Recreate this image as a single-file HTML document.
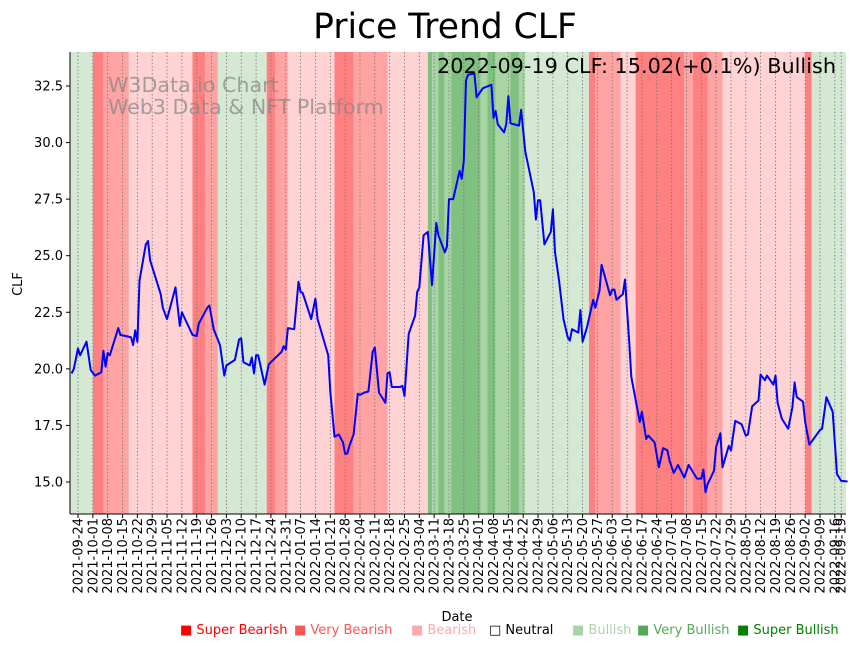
<!DOCTYPE html>
<html><head><meta charset="utf-8"><style>
body{margin:0;background:#fff;}
svg{display:block;font-family:"DejaVu Sans","Liberation Sans",sans-serif;}
</style></head><body>
<svg id="chart" width="864" height="646" viewBox="0 0 864 646" xmlns="http://www.w3.org/2000/svg">
<g id="bands"></g>
<g id="grid"></g>
<text x="108" y="92" font-size="20.6" fill="#888" fill-opacity="0.75">W3Data.io Chart</text>
<text x="108" y="114" font-size="20.6" fill="#888" fill-opacity="0.75">Web3 Data &amp; NFT Platform</text>
<g id="series"></g>
<line x1="70" y1="52" x2="70" y2="514" stroke="#000" stroke-width="1"/>
<line x1="70" y1="514" x2="846" y2="514" stroke="#000" stroke-width="1"/>
<g id="yticks"></g>
<g id="xticks"></g>
<text x="445" y="38" font-size="34.5" text-anchor="middle">Price Trend CLF</text>
<text x="836" y="73" font-size="20.8" text-anchor="end">2022-09-19 CLF: 15.02(+0.1%) Bullish</text>
<text x="22" y="284" font-size="13" text-anchor="middle" transform="rotate(-90 22 284)">CLF</text>
<text x="457" y="621" font-size="13" text-anchor="middle">Date</text>
<g id="legend"></g>
</svg>
<script>
const startDate = new Date('2021-09-24T00:00:00Z');
const days = [-3,-2,0,1,4,6,8,11,12,13,14,15,19,20,25,26,27,28,29,32,33,34,39,40,42,46,48,49,54,56,57,61,62,64,67,69,70,74,76,77,78,81,82,83,84,85,88,90,96,97,98,99,102,104,105,106,110,112,113,118,119,121,123,125,126,127,128,130,132,133,135,137,139,140,142,145,146,147,148,152,153,154,156,159,160,161,163,165,167,169,170,173,174,175,177,180,181,182,183,184,187,188,191,195,196,197,198,201,202,203,204,208,209,211,215,216,217,218,220,223,224,225,227,229,231,232,233,236,237,238,240,243,244,246,247,251,252,253,254,257,258,260,261,265,266,268,269,272,274,276,278,279,281,283,286,288,292,294,295,296,297,300,301,303,304,307,308,310,313,315,316,318,321,322,324,325,328,329,330,332,335,337,338,339,342,343,345,350,351,353,356,358,360,363];
const prices = [19.8,20.0,20.9,20.6,21.2,19.95,19.7,19.85,20.8,20.1,20.7,20.6,21.8,21.5,21.4,21.05,21.7,21.2,23.9,25.5,25.65,24.8,23.3,22.7,22.2,23.6,21.9,22.5,21.5,21.45,22.0,22.7,22.8,21.75,21.05,19.7,20.15,20.4,21.3,21.35,20.3,20.15,20.5,19.8,20.6,20.6,19.3,20.2,20.75,21.0,20.85,21.8,21.75,23.85,23.4,23.35,22.2,23.1,22.2,20.6,19.0,17.0,17.1,16.75,16.25,16.25,16.6,17.1,18.9,18.85,18.95,19.0,20.75,20.95,18.95,18.5,19.8,19.85,19.2,19.2,19.25,18.8,21.55,22.35,23.4,23.6,25.9,26.05,23.7,26.45,25.9,25.15,25.4,27.5,27.5,28.75,28.4,29.2,32.75,33.0,33.05,32.0,32.4,32.55,31.1,31.4,30.8,30.45,30.8,32.05,30.85,30.75,31.45,29.6,27.8,26.6,27.45,27.45,25.5,26.05,27.05,25.15,23.85,22.2,21.4,21.25,21.75,21.6,22.6,21.2,21.8,23.05,22.7,23.45,24.6,23.25,23.5,23.5,23.05,23.3,23.95,21.2,19.65,17.65,18.1,16.9,17.05,16.75,15.65,16.5,16.4,15.95,15.4,15.75,15.2,15.75,15.15,15.15,15.55,14.55,14.9,15.5,16.55,17.15,15.65,16.6,16.4,17.7,17.55,17.05,17.1,18.35,18.6,19.75,19.5,19.7,19.3,19.7,18.5,17.8,17.35,18.3,19.4,18.75,18.55,17.65,16.65,17.3,17.35,18.75,18.1,15.35,15.05,15.02];
const bandStart = [-4,7,12,24,54,60,66,89,93,99,121,130,146,165,167,170,173,176,190,193,197,204,208,211,241,244,256,263,286,290,297,304,343,346];
const bandLevel = [3,-3,-2,-1,-3,-2,3,-3,-2,-1,-3,-2,-1,6,5,6,5,6,5,6,5,6,5,3,-3,-2,-1,-3,-2,-3,-2,-1,-3,3];
const bandEndDay = 364;
const yTicks = [15.0,17.5,20.0,22.5,25.0,27.5,30.0,32.5];
const legendLabels = ['Super Bearish','Very Bearish','Bearish','Neutral','Bullish','Very Bullish','Super Bullish'];

const X0=70,X1=846,Y0=52,Y1=514;
function xs(d){return 78+2.12*d;}
function ys(v){return 482-(v-15)*22.63;}
const bandColor={'-3':'#ff8080','-2':'#ffa3a3','-1':'#ffd3d3','3':'#d5e8d4','5':'#a9d5a5','6':'#80c080'};
const NS='http://www.w3.org/2000/svg';
function mk(t,a,p){const e=document.createElementNS(NS,t);for(const k in a)e.setAttribute(k,a[k]);p.appendChild(e);return e;}

const gb=document.getElementById('bands');
for(let i=0;i<bandStart.length;i++){
  const s=Math.max(X0,xs(bandStart[i]));
  const e=Math.min(X1,xs(i+1<bandStart.length?bandStart[i+1]:bandEndDay));
  const r=mk('rect',{x:s,y:Y0,width:Math.max(0,e-s),height:Y1-Y0,fill:bandColor[String(bandLevel[i])]},gb);
  
  
}

const gg=document.getElementById('grid'), gx=document.getElementById('xticks');
const tickDays=[];
for(let d=0;d<=357;d+=7)tickDays.push(d);
tickDays.push(360);
function fmt(d){const t=new Date(startDate.getTime()+d*86400000);return t.toISOString().slice(0,10);}
tickDays.forEach(d=>{
  const x=xs(d);
  const l=mk('line',{x1:x,y1:Y0,x2:x,y2:Y1,stroke:'#777','stroke-width':0.8,'stroke-dasharray':'1.5,2'},gg);
  
  
  const tk=mk('line',{x1:x,y1:Y1,x2:x,y2:Y1+4,stroke:'#000'},gx);
  
  
  const t=mk('text',{x:0,y:0,'font-size':13,'text-anchor':'end',transform:`translate(${x+4.5},518) rotate(-90)`},gx);
  t.textContent=fmt(d);
  
  
});

const gy=document.getElementById('yticks');
yTicks.forEach(v=>{
  const y=ys(v);
  const tk=mk('line',{x1:X0-4,y1:y,x2:X0,y2:y,stroke:'#000'},gy);
  
  
  const t=mk('text',{x:X0-7,y:y+4.5,'font-size':13,'text-anchor':'end'},gy);
  t.textContent=v.toFixed(1);
  
  
});

const gs=document.getElementById('series');
const pts=days.map((d,i)=>xs(d).toFixed(1)+','+ys(prices[i]).toFixed(1)).join(' ');
const pl=mk('polyline',{points:pts,fill:'none',stroke:'#0000ff','stroke-width':2,'stroke-linejoin':'round'},gs);



const gl=document.getElementById('legend');
const legColors=['#ff0000','#ff5555','#ffaaaa','#000000','#aad4a5','#55aa55','#008000'];
const legX=[180,294,411,489,572,637,737];
legendLabels.forEach((lab,i)=>{
  const t=mk('text',{x:legX[i],y:634,'font-size':13,fill:legColors[i]},gl);
  t.textContent=(i===3?'\u25A1 ':'\u25A0 ')+lab;
  
  
});
</script>
</body></html>
